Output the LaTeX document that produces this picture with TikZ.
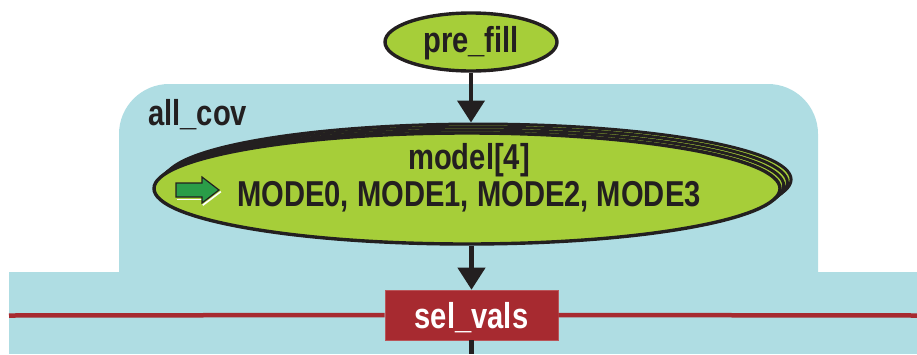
\documentclass[tikz,border=0pt]{standalone}
\usepackage{fontspec}
\usetikzlibrary{arrows.meta,shapes.geometric}
\newfontfamily\lblfont[FakeStretch=0.81]{Liberation Sans}

\definecolor{covblue}{HTML}{AFDDE3}
\definecolor{leaf}{HTML}{A6CE39}
\definecolor{ink}{HTML}{231F20}
\definecolor{brick}{HTML}{A72A30}
\definecolor{iconGreen}{HTML}{2A9D48}

\tikzset{
  lbl/.style={inner sep=0pt, text=ink, font=\lblfont\bfseries\fontsize{36}{36}\selectfont},
  leafell/.style={ellipse, draw=ink, fill=leaf, line width=3.4pt, inner sep=0pt},
  flow/.style={draw=ink, line width=4.2pt, -{Triangle[width=27pt,length=22pt]}},
  plain/.style={draw=ink, line width=4.2pt},
  selbox/.style={rectangle, fill=brick, draw=brick!80!white, line width=0.6pt,
    minimum width=173pt, minimum height=50pt, inner sep=0pt},
  rail/.style={draw=brick, line width=4.5pt},
}

\begin{document}
\begin{tikzpicture}[x=1pt,y=-1pt]
\useasboundingbox (0,0) rectangle (917,354);

% coverage group background: rounded upper block on a full-width band
\fill[covblue, rounded corners=50pt] (119,84) rectangle (818,345);
\fill[covblue] (9,272) rectangle (917,354);

% group label
\node[lbl, anchor=base west] (allcov) at (148,125) {all\_cov};

% pre_fill
\node[leafell, minimum width=172pt, minimum height=58pt] (prefill) at (471,42) {};
\node[lbl, anchor=base] (prefilltxt) at (471,52) {pre\_fill};

% model[4]: stacked copies behind the front ellipse
\foreach \k in {3,2,1}{
  \node[leafell, line width=3pt, minimum width=626pt, minimum height=111pt]
    (mback\k) at ({467+3.7*\k},{188.5-3*\k}) {};
}
\node[leafell, minimum width=626pt, minimum height=111pt] (model) at (467,188.5) {};
\node[lbl, anchor=base] (modeltitle) at (469,169) {model[4]};
\node[lbl, anchor=base] (modelvals) at (469,206) {MODE0, MODE1, MODE2, MODE3};

% green entry arrow icon
\draw[white, line width=1.6pt] (177,199.3) -- (202,199.3);
\draw[white, line width=1.6pt] (202.8,205.2) -- (220.8,191.6);
\draw[ink, fill=iconGreen, line width=1.2pt, line join=miter]
  (176,183) -- (202,183) -- (202,177) -- (219,190) -- (202,203) -- (202,197) -- (176,197) -- cycle;

% sel_vals bar
\coordinate (railL) at (9,315.5);
\coordinate (railR) at (917,315.5);
\node[selbox] (sel) at (471.5,315) {};
\node[lbl, text=white, anchor=base] (seltxt) at (471.5,328) {sel\_vals};
\draw[rail] (railL) -- (sel.west);
\draw[rail] (sel.east) -- (railR);

% connectors
\coordinate (bottom) at (471.5,354);
\draw[flow] (prefill.south) -- (prefill.south |- mback3.north);
\draw[flow] (sel.north |- model.south) -- (sel.north);
\draw[plain] (sel.south) -- (bottom);
\end{tikzpicture}
\end{document}
